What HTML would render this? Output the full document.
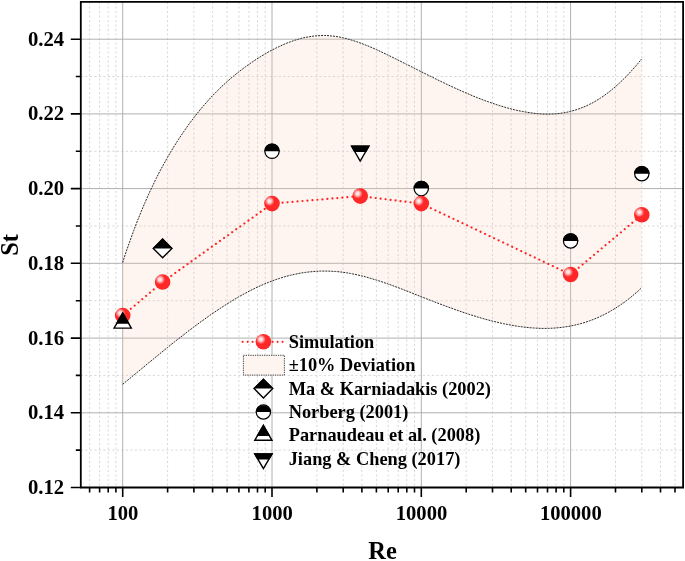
<!DOCTYPE html><html><head><meta charset="utf-8"><title>St vs Re</title><style>html,body{margin:0;padding:0;background:#fff}svg{display:block}text{font-family:"Liberation Serif",serif;font-weight:bold;fill:#000}</style></head><body>
<svg width="685" height="561" viewBox="0 0 685 561">
<defs><radialGradient id="rg" cx="0.34" cy="0.34" r="0.32"><stop offset="0" stop-color="#fff4f4"/><stop offset="0.3" stop-color="#ffdcdc"/><stop offset="0.6" stop-color="#ff9494"/><stop offset="0.85" stop-color="#ff4a4a"/><stop offset="1" stop-color="#ff2828"/></radialGradient></defs>
<rect width="685" height="561" fill="#fff"/>
<path d="M89.6,1.9 V487.5 M99.6,1.9 V487.5 M108.2,1.9 V487.5 M115.9,1.9 V487.5 M167.6,1.9 V487.5 M193.9,1.9 V487.5 M212.6,1.9 V487.5 M227.1,1.9 V487.5 M238.9,1.9 V487.5 M248.9,1.9 V487.5 M257.5,1.9 V487.5 M265.2,1.9 V487.5 M316.9,1.9 V487.5 M343.2,1.9 V487.5 M361.9,1.9 V487.5 M376.4,1.9 V487.5 M388.2,1.9 V487.5 M398.2,1.9 V487.5 M406.8,1.9 V487.5 M414.5,1.9 V487.5 M466.2,1.9 V487.5 M492.5,1.9 V487.5 M511.2,1.9 V487.5 M525.7,1.9 V487.5 M537.5,1.9 V487.5 M547.5,1.9 V487.5 M556.1,1.9 V487.5 M563.8,1.9 V487.5 M615.5,1.9 V487.5 M641.8,1.9 V487.5 M660.5,1.9 V487.5 M675.0,1.9 V487.5 M80.8,450.1 H683.1 M80.8,375.4 H683.1 M80.8,300.7 H683.1 M80.8,226.0 H683.1 M80.8,151.3 H683.1 M80.8,76.5 H683.1" stroke="#d8d8d8" stroke-width="1" stroke-dasharray="2.2 2.3" fill="none"/>
<path d="M122.7,1.9 V487.5 M272.0,1.9 V487.5 M421.3,1.9 V487.5 M570.6,1.9 V487.5 M80.8,412.8 H683.1 M80.8,338.1 H683.1 M80.8,263.3 H683.1 M80.8,188.6 H683.1 M80.8,113.9 H683.1 M80.8,39.2 H683.1" stroke="#b0b0b0" stroke-width="1" fill="none"/>
<path d="M122.6,262.6 L126.3,251.3 L130.1,240.6 L133.8,230.3 L137.5,220.6 L141.3,211.3 L145.0,202.5 L148.7,194.1 L152.5,186.1 L156.2,178.4 L159.9,171.1 L163.7,164.2 L167.4,157.6 L171.1,151.2 L174.9,145.1 L178.6,139.2 L182.4,133.6 L186.1,128.2 L189.8,123.0 L193.6,118.0 L197.3,113.3 L201.0,108.7 L204.8,104.3 L208.5,100.1 L212.2,96.0 L216.0,92.2 L219.7,88.5 L223.4,84.9 L227.2,81.5 L230.9,78.3 L234.6,75.2 L238.4,72.2 L242.1,69.3 L245.8,66.5 L249.6,63.9 L253.3,61.3 L257.0,58.9 L260.8,56.5 L264.5,54.3 L268.2,52.1 L272.0,50.1 L275.7,48.2 L279.5,46.4 L283.2,44.7 L286.9,43.1 L290.7,41.7 L294.4,40.4 L298.1,39.3 L301.9,38.2 L305.6,37.4 L309.3,36.7 L313.1,36.1 L316.8,35.8 L320.5,35.6 L324.3,35.5 L328.0,35.6 L331.7,36.0 L335.5,36.4 L339.2,37.0 L342.9,37.8 L346.7,38.7 L350.4,39.7 L354.1,40.9 L357.9,42.1 L361.6,43.5 L365.3,44.9 L369.1,46.4 L372.8,48.0 L376.5,49.7 L380.3,51.4 L384.0,53.2 L387.8,55.0 L391.5,56.8 L395.2,58.6 L399.0,60.5 L402.7,62.4 L406.4,64.2 L410.2,66.1 L413.9,68.0 L417.6,69.9 L421.4,71.8 L425.1,73.6 L428.8,75.5 L432.6,77.3 L436.3,79.2 L440.0,81.0 L443.8,82.8 L447.5,84.6 L451.2,86.3 L455.0,88.1 L458.7,89.7 L462.4,91.4 L466.2,93.0 L469.9,94.6 L473.6,96.2 L477.4,97.7 L481.1,99.1 L484.8,100.6 L488.6,101.9 L492.3,103.2 L496.1,104.5 L499.8,105.7 L503.5,106.8 L507.3,107.9 L511.0,108.9 L514.7,109.8 L518.5,110.7 L522.2,111.4 L525.9,112.1 L529.7,112.7 L533.4,113.2 L537.1,113.6 L540.9,113.9 L544.6,114.1 L548.3,114.1 L552.1,114.0 L555.8,113.8 L559.5,113.4 L563.3,112.9 L567.0,112.2 L570.7,111.3 L574.5,110.3 L578.2,109.1 L581.9,107.7 L585.7,106.2 L589.4,104.4 L593.2,102.5 L596.9,100.3 L600.6,98.0 L604.4,95.4 L608.1,92.7 L611.8,89.7 L615.6,86.5 L619.3,83.2 L623.0,79.6 L626.8,75.9 L630.5,71.9 L634.2,67.8 L638.0,63.4 L641.7,58.9 L641.7,287.7 L638.0,291.2 L634.2,294.4 L630.5,297.5 L626.8,300.4 L623.0,303.2 L619.3,305.7 L615.6,308.1 L611.8,310.4 L608.1,312.5 L604.4,314.5 L600.6,316.3 L596.9,318.0 L593.2,319.5 L589.4,320.9 L585.7,322.2 L581.9,323.3 L578.2,324.3 L574.5,325.2 L570.7,326.0 L567.0,326.6 L563.3,327.2 L559.5,327.6 L555.8,328.0 L552.1,328.2 L548.3,328.4 L544.6,328.4 L540.9,328.4 L537.1,328.2 L533.4,328.0 L529.7,327.7 L525.9,327.3 L522.2,326.9 L518.5,326.4 L514.7,325.8 L511.0,325.1 L507.3,324.4 L503.5,323.7 L499.8,322.9 L496.1,322.0 L492.3,321.1 L488.6,320.1 L484.8,319.1 L481.1,318.0 L477.4,316.9 L473.6,315.7 L469.9,314.6 L466.2,313.3 L462.4,312.1 L458.7,310.8 L455.0,309.5 L451.2,308.1 L447.5,306.8 L443.8,305.4 L440.0,304.0 L436.3,302.6 L432.6,301.1 L428.8,299.7 L425.1,298.2 L421.4,296.8 L417.6,295.3 L413.9,293.8 L410.2,292.3 L406.4,290.9 L402.7,289.4 L399.0,288.0 L395.2,286.6 L391.5,285.2 L387.8,283.9 L384.0,282.6 L380.3,281.3 L376.5,280.1 L372.8,279.0 L369.1,277.9 L365.3,276.8 L361.6,275.9 L357.9,275.0 L354.1,274.2 L350.4,273.5 L346.7,272.8 L342.9,272.3 L339.2,271.8 L335.5,271.5 L331.7,271.3 L328.0,271.1 L324.3,271.1 L320.5,271.1 L316.8,271.3 L313.1,271.6 L309.3,271.9 L305.6,272.4 L301.9,272.9 L298.1,273.6 L294.4,274.4 L290.7,275.2 L286.9,276.2 L283.2,277.2 L279.5,278.4 L275.7,279.6 L272.0,281.0 L268.2,282.5 L264.5,284.0 L260.8,285.6 L257.0,287.3 L253.3,289.2 L249.6,291.0 L245.8,293.0 L242.1,295.0 L238.4,297.1 L234.6,299.3 L230.9,301.6 L227.2,303.9 L223.4,306.3 L219.7,308.7 L216.0,311.2 L212.2,313.7 L208.5,316.3 L204.8,319.0 L201.0,321.7 L197.3,324.4 L193.6,327.2 L189.8,330.0 L186.1,332.9 L182.4,335.8 L178.6,338.7 L174.9,341.6 L171.1,344.6 L167.4,347.6 L163.7,350.6 L159.9,353.7 L156.2,356.7 L152.5,359.8 L148.7,362.8 L145.0,365.9 L141.3,369.0 L137.5,372.1 L133.8,375.1 L130.1,378.2 L126.3,381.3 L122.6,384.3Z" fill="#ffcdb4" fill-opacity="0.2" stroke="none"/>
<path d="M122.6,262.6 L126.3,251.3 L130.1,240.6 L133.8,230.3 L137.5,220.6 L141.3,211.3 L145.0,202.5 L148.7,194.1 L152.5,186.1 L156.2,178.4 L159.9,171.1 L163.7,164.2 L167.4,157.6 L171.1,151.2 L174.9,145.1 L178.6,139.2 L182.4,133.6 L186.1,128.2 L189.8,123.0 L193.6,118.0 L197.3,113.3 L201.0,108.7 L204.8,104.3 L208.5,100.1 L212.2,96.0 L216.0,92.2 L219.7,88.5 L223.4,84.9 L227.2,81.5 L230.9,78.3 L234.6,75.2 L238.4,72.2 L242.1,69.3 L245.8,66.5 L249.6,63.9 L253.3,61.3 L257.0,58.9 L260.8,56.5 L264.5,54.3 L268.2,52.1 L272.0,50.1 L275.7,48.2 L279.5,46.4 L283.2,44.7 L286.9,43.1 L290.7,41.7 L294.4,40.4 L298.1,39.3 L301.9,38.2 L305.6,37.4 L309.3,36.7 L313.1,36.1 L316.8,35.8 L320.5,35.6 L324.3,35.5 L328.0,35.6 L331.7,36.0 L335.5,36.4 L339.2,37.0 L342.9,37.8 L346.7,38.7 L350.4,39.7 L354.1,40.9 L357.9,42.1 L361.6,43.5 L365.3,44.9 L369.1,46.4 L372.8,48.0 L376.5,49.7 L380.3,51.4 L384.0,53.2 L387.8,55.0 L391.5,56.8 L395.2,58.6 L399.0,60.5 L402.7,62.4 L406.4,64.2 L410.2,66.1 L413.9,68.0 L417.6,69.9 L421.4,71.8 L425.1,73.6 L428.8,75.5 L432.6,77.3 L436.3,79.2 L440.0,81.0 L443.8,82.8 L447.5,84.6 L451.2,86.3 L455.0,88.1 L458.7,89.7 L462.4,91.4 L466.2,93.0 L469.9,94.6 L473.6,96.2 L477.4,97.7 L481.1,99.1 L484.8,100.6 L488.6,101.9 L492.3,103.2 L496.1,104.5 L499.8,105.7 L503.5,106.8 L507.3,107.9 L511.0,108.9 L514.7,109.8 L518.5,110.7 L522.2,111.4 L525.9,112.1 L529.7,112.7 L533.4,113.2 L537.1,113.6 L540.9,113.9 L544.6,114.1 L548.3,114.1 L552.1,114.0 L555.8,113.8 L559.5,113.4 L563.3,112.9 L567.0,112.2 L570.7,111.3 L574.5,110.3 L578.2,109.1 L581.9,107.7 L585.7,106.2 L589.4,104.4 L593.2,102.5 L596.9,100.3 L600.6,98.0 L604.4,95.4 L608.1,92.7 L611.8,89.7 L615.6,86.5 L619.3,83.2 L623.0,79.6 L626.8,75.9 L630.5,71.9 L634.2,67.8 L638.0,63.4 L641.7,58.9" fill="none" stroke="#2a2a2a" stroke-width="1" stroke-dasharray="2 1"/>
<path d="M122.6,384.3 L126.3,381.3 L130.1,378.2 L133.8,375.1 L137.5,372.1 L141.3,369.0 L145.0,365.9 L148.7,362.8 L152.5,359.8 L156.2,356.7 L159.9,353.7 L163.7,350.6 L167.4,347.6 L171.1,344.6 L174.9,341.6 L178.6,338.7 L182.4,335.8 L186.1,332.9 L189.8,330.0 L193.6,327.2 L197.3,324.4 L201.0,321.7 L204.8,319.0 L208.5,316.3 L212.2,313.7 L216.0,311.2 L219.7,308.7 L223.4,306.3 L227.2,303.9 L230.9,301.6 L234.6,299.3 L238.4,297.1 L242.1,295.0 L245.8,293.0 L249.6,291.0 L253.3,289.2 L257.0,287.3 L260.8,285.6 L264.5,284.0 L268.2,282.5 L272.0,281.0 L275.7,279.6 L279.5,278.4 L283.2,277.2 L286.9,276.2 L290.7,275.2 L294.4,274.4 L298.1,273.6 L301.9,272.9 L305.6,272.4 L309.3,271.9 L313.1,271.6 L316.8,271.3 L320.5,271.1 L324.3,271.1 L328.0,271.1 L331.7,271.3 L335.5,271.5 L339.2,271.8 L342.9,272.3 L346.7,272.8 L350.4,273.5 L354.1,274.2 L357.9,275.0 L361.6,275.9 L365.3,276.8 L369.1,277.9 L372.8,279.0 L376.5,280.1 L380.3,281.3 L384.0,282.6 L387.8,283.9 L391.5,285.2 L395.2,286.6 L399.0,288.0 L402.7,289.4 L406.4,290.9 L410.2,292.3 L413.9,293.8 L417.6,295.3 L421.4,296.8 L425.1,298.2 L428.8,299.7 L432.6,301.1 L436.3,302.6 L440.0,304.0 L443.8,305.4 L447.5,306.8 L451.2,308.1 L455.0,309.5 L458.7,310.8 L462.4,312.1 L466.2,313.3 L469.9,314.6 L473.6,315.7 L477.4,316.9 L481.1,318.0 L484.8,319.1 L488.6,320.1 L492.3,321.1 L496.1,322.0 L499.8,322.9 L503.5,323.7 L507.3,324.4 L511.0,325.1 L514.7,325.8 L518.5,326.4 L522.2,326.9 L525.9,327.3 L529.7,327.7 L533.4,328.0 L537.1,328.2 L540.9,328.4 L544.6,328.4 L548.3,328.4 L552.1,328.2 L555.8,328.0 L559.5,327.6 L563.3,327.2 L567.0,326.6 L570.7,326.0 L574.5,325.2 L578.2,324.3 L581.9,323.3 L585.7,322.2 L589.4,320.9 L593.2,319.5 L596.9,318.0 L600.6,316.3 L604.4,314.5 L608.1,312.5 L611.8,310.4 L615.6,308.1 L619.3,305.7 L623.0,303.2 L626.8,300.4 L630.5,297.5 L634.2,294.4 L638.0,291.2 L641.7,287.7" fill="none" stroke="#2a2a2a" stroke-width="1" stroke-dasharray="2 1"/>
<path d="M80.8,1.9 H683.1 V487.5 H80.8 Z" fill="none" stroke="#000" stroke-width="1.8"/>
<path d="M122.7,487.5 v9.5 M272.0,487.5 v9.5 M421.3,487.5 v9.5 M570.6,487.5 v9.5 M89.6,487.5 v5 M99.6,487.5 v5 M108.2,487.5 v5 M115.9,487.5 v5 M167.6,487.5 v5 M193.9,487.5 v5 M212.6,487.5 v5 M227.1,487.5 v5 M238.9,487.5 v5 M248.9,487.5 v5 M257.5,487.5 v5 M265.2,487.5 v5 M316.9,487.5 v5 M343.2,487.5 v5 M361.9,487.5 v5 M376.4,487.5 v5 M388.2,487.5 v5 M398.2,487.5 v5 M406.8,487.5 v5 M414.5,487.5 v5 M466.2,487.5 v5 M492.5,487.5 v5 M511.2,487.5 v5 M525.7,487.5 v5 M537.5,487.5 v5 M547.5,487.5 v5 M556.1,487.5 v5 M563.8,487.5 v5 M615.5,487.5 v5 M641.8,487.5 v5 M660.5,487.5 v5 M675.0,487.5 v5 M80.8,487.5 h-10 M80.8,450.1 h-5 M80.8,412.8 h-10 M80.8,375.4 h-5 M80.8,338.1 h-10 M80.8,300.7 h-5 M80.8,263.3 h-10 M80.8,226.0 h-5 M80.8,188.6 h-10 M80.8,151.3 h-5 M80.8,113.9 h-10 M80.8,76.5 h-5 M80.8,39.2 h-10" stroke="#000" stroke-width="1.6" fill="none"/>
<text x="64.2" y="493.9" font-size="20.7" text-anchor="end">0.12</text>
<text x="64.2" y="419.2" font-size="20.7" text-anchor="end">0.14</text>
<text x="64.2" y="344.5" font-size="20.7" text-anchor="end">0.16</text>
<text x="64.2" y="269.7" font-size="20.7" text-anchor="end">0.18</text>
<text x="64.2" y="195.0" font-size="20.7" text-anchor="end">0.20</text>
<text x="64.2" y="120.3" font-size="20.7" text-anchor="end">0.22</text>
<text x="64.2" y="45.6" font-size="20.7" text-anchor="end">0.24</text>
<text x="122.9" y="519.5" font-size="20.6" text-anchor="middle">100</text>
<text x="272.2" y="519.5" font-size="20.6" text-anchor="middle">1000</text>
<text x="421.5" y="519.5" font-size="20.6" text-anchor="middle">10000</text>
<text x="570.8" y="519.5" font-size="20.6" text-anchor="middle">100000</text>
<text x="382.5" y="558.6" font-size="24.5" text-anchor="middle">Re</text>
<text transform="translate(17.9,244.9) rotate(-90)" font-size="24.5" text-anchor="middle">St</text>
<path d="M122.7,315.6 L162.6,282.0 M162.6,282.0 L272.0,203.6 M272.0,203.6 L360.2,196.1 M360.2,196.1 L421.3,203.6 M421.3,203.6 L570.6,274.5 M570.6,274.5 L641.8,214.8" fill="none" stroke="#ff2424" stroke-width="2.2" stroke-linecap="round" stroke-dasharray="0.01 4.99" stroke-dashoffset="-0.6"/>
<path d="M162.6,239.1 L171.9,248.4 L162.6,257.7 L153.3,248.4 Z" fill="#fff" stroke="#000" stroke-width="1.4" stroke-linejoin="miter"/><path d="M162.6,238.2 L172.8,248.4 L152.4,248.4 Z" fill="#000"/>
<circle cx="272.0" cy="151.3" r="7.15" fill="#fff" stroke="#000" stroke-width="1.25"/><path d="M264.2,151.3 A7.75,7.75 0 0 1 279.8,151.3 Z" fill="#000"/>
<circle cx="421.3" cy="188.6" r="7.15" fill="#fff" stroke="#000" stroke-width="1.25"/><path d="M413.6,188.6 A7.75,7.75 0 0 1 429.1,188.6 Z" fill="#000"/>
<circle cx="570.6" cy="240.9" r="7.15" fill="#fff" stroke="#000" stroke-width="1.25"/><path d="M562.9,240.9 A7.75,7.75 0 0 1 578.4,240.9 Z" fill="#000"/>
<circle cx="641.8" cy="173.7" r="7.15" fill="#fff" stroke="#000" stroke-width="1.25"/><path d="M634.1,173.7 A7.75,7.75 0 0 1 649.6,173.7 Z" fill="#000"/>
<path d="M351.7,146.3 L368.8,146.3 L360.2,161.2 Z" fill="#fff" stroke="#000" stroke-width="1.4" stroke-linejoin="miter"/><path d="M351.7,146.3 L368.8,146.3 L366.0,151.3 L354.5,151.3 Z" fill="#000" stroke="#000" stroke-width="1.4"/>
<circle cx="122.7" cy="315.6" r="7.8" fill="url(#rg)"/>
<circle cx="162.6" cy="282.0" r="7.8" fill="url(#rg)"/>
<circle cx="272.0" cy="203.6" r="7.8" fill="url(#rg)"/>
<circle cx="360.2" cy="196.1" r="7.8" fill="url(#rg)"/>
<circle cx="421.3" cy="203.6" r="7.8" fill="url(#rg)"/>
<circle cx="570.6" cy="274.5" r="7.8" fill="url(#rg)"/>
<circle cx="641.8" cy="214.8" r="7.8" fill="url(#rg)"/>
<path d="M122.7,313.2 L131.3,328.1 L114.1,328.1 Z" fill="#fff" stroke="#000" stroke-width="1.4" stroke-linejoin="miter"/><path d="M122.7,313.2 L128.4,323.1 L117.0,323.1 Z" fill="#000" stroke="#000" stroke-width="1.4"/>
<path d="M242,341.8 H284" stroke="#ff2424" stroke-width="2.2" stroke-linecap="round" stroke-dasharray="0.01 4.99" stroke-dashoffset="-0.6" fill="none"/>
<circle cx="263.4" cy="341.8" r="7.8" fill="url(#rg)"/>
<rect x="243.4" y="355.3" width="41" height="19.8" fill="#fff5f0" stroke="#333" stroke-width="0.9" stroke-dasharray="1.3 1"/>
<path d="M263.4,379.3 L272.7,388.6 L263.4,397.9 L254.1,388.6 Z" fill="#fff" stroke="#000" stroke-width="1.4" stroke-linejoin="miter"/><path d="M263.4,378.4 L273.6,388.6 L253.2,388.6 Z" fill="#000"/>
<circle cx="263.4" cy="412.0" r="7.15" fill="#fff" stroke="#000" stroke-width="1.25"/><path d="M255.7,412.0 A7.75,7.75 0 0 1 271.1,412.0 Z" fill="#000"/>
<path d="M263.4,425.5 L272.0,440.3 L254.8,440.3 Z" fill="#fff" stroke="#000" stroke-width="1.4" stroke-linejoin="miter"/><path d="M263.4,425.5 L269.1,435.4 L257.7,435.4 Z" fill="#000" stroke="#000" stroke-width="1.4"/>
<path d="M254.8,453.9 L272.0,453.9 L263.4,468.7 Z" fill="#fff" stroke="#000" stroke-width="1.4" stroke-linejoin="miter"/><path d="M254.8,453.9 L272.0,453.9 L269.1,458.8 L257.7,458.8 Z" fill="#000" stroke="#000" stroke-width="1.4"/>
<text x="288.7" y="347.7" font-size="18.35">Simulation</text>
<text x="288.7" y="371.1" font-size="18.35">±10% Deviation</text>
<text x="288.7" y="394.5" font-size="18.35">Ma &amp; Karniadakis (2002)</text>
<text x="288.7" y="417.9" font-size="18.35">Norberg (2001)</text>
<text x="288.7" y="441.3" font-size="18.35">Parnaudeau et al. (2008)</text>
<text x="288.7" y="464.7" font-size="18.35">Jiang &amp; Cheng (2017)</text>
</svg></body></html>
